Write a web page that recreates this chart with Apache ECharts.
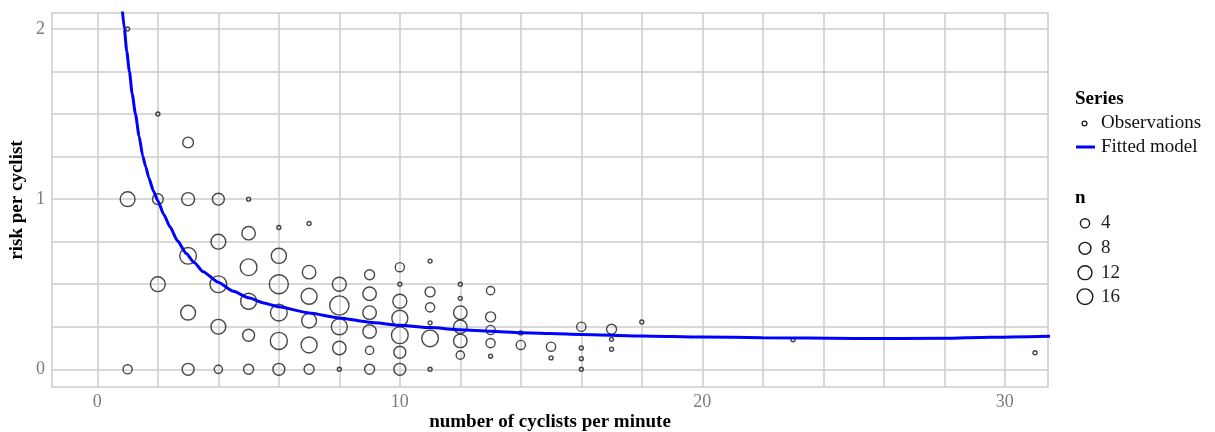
<!DOCTYPE html>
<html><head><meta charset="utf-8">
<script src="https://cdn.jsdelivr.net/npm/echarts@6/dist/echarts.min.js"></script>
<style>html,body{margin:0;padding:0;background:#fff}#c{width:1215px;height:432px}</style>
</head><body><div id="c"></div>
<script>
// ---- data ----
const obsX = [1,1,1, 2,2,2, 3,3,3,3,3, 4,4,4,4,4, 5,5,5,5,5,5, 6,6,6,6,6,6, 7,7,7,7,7,7, 8,8,8,8,8, 9,9,9,9,9,9, 10,10,10,10,10,10,10, 11,11,11,11,11,11, 12,12,12,12,12,12, 13,13,13,13,13, 14,14, 15,15, 16,16,16,16, 17,17,17, 18, 23, 31];
const obsY = [2,1,0, 1.5,1,0.5, 1.333,1,0.667,0.333,0, 1,0.75,0.5,0.25,0, 1,0.8,0.6,0.4,0.2,0, 0.833,0.667,0.5,0.333,0.167,0, 0.857,0.571,0.429,0.286,0.143,0, 0.5,0.375,0.25,0.125,0, 0.556,0.444,0.333,0.222,0.111,0, 0.6,0.5,0.4,0.3,0.2,0.1,0, 0.636,0.455,0.364,0.273,0.182,0, 0.5,0.417,0.333,0.25,0.167,0.083, 0.462,0.308,0.231,0.154,0.077, 0.214,0.143, 0.133,0.067, 0.25,0.125,0.0625,0, 0.235,0.176,0.118, 0.278, 0.174, 0.097];
const obsN = [1,14,4, 1,6,14, 6,10,19,14,8, 8,14,19,14,3, 1,11,19,17,8,5, 1,15,26,19,20,8, 1,11,17,14,17,5, 12,27,17,11,1, 5,11,11,11,3,5, 4,1,12,17,19,8,8, 1,5,4,1,19,1, 1,1,11,11,11,3, 3,5,4,4,1, 1,4, 4,1, 4,1,1,1, 5,1,1, 1, 1, 1];
const fitX = [0.80, 0.894, 0.97, 1.06, 1.15, 1.26, 1.38, 1.5, 1.6, 1.7, 1.85, 2.0, 2.2, 2.4, 2.65, 2.94, 3.2, 3.5, 3.99, 4.5, 5.0, 5.5, 6.0, 7.0, 8.0, 9.0, 10.0, 11.0, 12.0, 13.0, 14.0, 16.0, 18.0, 20.0, 22.0, 25.0, 28.0, 29.5, 31.5];
const fitY = [2.16, 2.0, 1.87, 1.75, 1.62, 1.5, 1.37, 1.253, 1.19, 1.126, 1.049, 0.99, 0.909, 0.8375, 0.755, 0.68, 0.627, 0.573, 0.512, 0.458, 0.42, 0.39, 0.367, 0.331, 0.302, 0.277, 0.259, 0.245, 0.233, 0.224, 0.215, 0.205, 0.196, 0.19, 0.186, 0.181, 0.182, 0.188, 0.194];
const xTickLabels = [0, 10, 20, 30];
const yTickLabels = [0, 1, 2];
const xGridValues = [0,2,4,6,8,10,12,14,16,18,20,22,24,26,28,30];
const yGridValues = [0,0.25,0.5,0.75,1,1.25,1.5,1.75,2];
const seriesLegendTitle = 'Series';
const seriesNames = ['Observations', 'Fitted model'];
const sizeLegendTitle = 'n';
const sizeLegendValues = [4, 8, 12, 16];
const xTitle = 'number of cyclists per minute';
const yTitle = 'risk per cyclist';

// ---- styling / helpers ----
const FONT = '"Liberation Serif", "Times New Roman", serif';
const sizeFn = n => 4 + 3 * Math.sqrt(n - 1);
const gridColor = '#cccccc';

const obsData = obsX.map((x, i) => [x, obsY[i], obsN[i]]);
const fitData = fitX.map((x, i) => [x, fitY[i]]);

const graphics = [];
graphics.push({type:'text', x:1075, y:99, style:{text:seriesLegendTitle, font:'bold 19px ' + FONT, fill:'#000', verticalAlign:'middle'}});
graphics.push({type:'circle', shape:{cx:1084.5, cy:123.5, r:2.4}, style:{fill:'none', stroke:'#1a1a1a', lineWidth:1.3}});
graphics.push({type:'text', x:1101, y:123.5, style:{text:seriesNames[0], font:'19px ' + FONT, fill:'#111', verticalAlign:'middle'}});
graphics.push({type:'line', shape:{x1:1076, y1:147, x2:1095, y2:147}, style:{stroke:'#0000ff', lineWidth:3}});
graphics.push({type:'text', x:1101, y:147, style:{text:seriesNames[1], font:'19px ' + FONT, fill:'#111', verticalAlign:'middle'}});
graphics.push({type:'text', x:1075, y:198, style:{text:sizeLegendTitle, font:'bold 19px ' + FONT, fill:'#000', verticalAlign:'middle'}});
const sizeRowY = [223.3, 248.3, 272.7, 296.7];
sizeLegendValues.forEach((v, i) => {
  graphics.push({type:'circle', shape:{cx:1085, cy:sizeRowY[i], r:sizeFn(v)/2}, style:{fill:'none', stroke:'#1a1a1a', lineWidth:1.4}});
  graphics.push({type:'text', x:1101, y:sizeRowY[i], style:{text:String(v), font:'19px ' + FONT, fill:'#222', verticalAlign:'middle'}});
});

const chart = echarts.init(document.getElementById('c'), null, {renderer:'canvas'});
chart.setOption({
  animation: false,
  backgroundColor: '#ffffff',
  grid: {left:52, right:167, top:13, bottom:45, show:true, borderColor:gridColor, borderWidth:1.5,
         containLabel:false, outerBoundsMode:'none'},
  xAxis: {
    type:'value', min:-1.5, max:31.43,
    axisLine:{show:false}, axisTick:{show:false, customValues:xGridValues},
    axisLabel:{customValues:xTickLabels, color:'#7a7a7a', fontFamily:FONT, fontSize:18, margin:6},
    splitLine:{show:true, lineStyle:{color:gridColor, width:1.5}},
    name:xTitle, nameLocation:'middle', nameGap:26, nameMoveOverlap:false,
    nameTextStyle:{fontFamily:FONT, fontWeight:'bold', fontSize:19, color:'#000'}
  },
  yAxis: {
    type:'value', min:-0.104, max:2.094,
    axisLine:{show:false}, axisTick:{show:false, customValues:yGridValues},
    axisLabel:{customValues:yTickLabels, color:'#7a7a7a', fontFamily:FONT, fontSize:18, margin:7},
    splitLine:{show:true, lineStyle:{color:gridColor, width:1.5}},
    name:yTitle, nameLocation:'middle', nameGap:25, nameMoveOverlap:false,
    nameTextStyle:{fontFamily:FONT, fontWeight:'bold', fontSize:19, color:'#000'}
  },
  series: [
    {type:'scatter', name:seriesNames[0], data:obsData, symbol:'circle',
     symbolSize: v => sizeFn(v[2]),
     itemStyle:{color:'rgba(0,0,0,0)', borderColor:'#1a1a1a', borderWidth:1.4}, z:2, silent:true},
    {type:'line', name:seriesNames[1], data:fitData, showSymbol:false, symbol:'none', smooth:0.2, smoothMonotone:'x',
     lineStyle:{color:'#0000ff', width:3}, z:3, clip:true, silent:true}
  ],
  graphic: graphics
});
</script>
</body></html>
